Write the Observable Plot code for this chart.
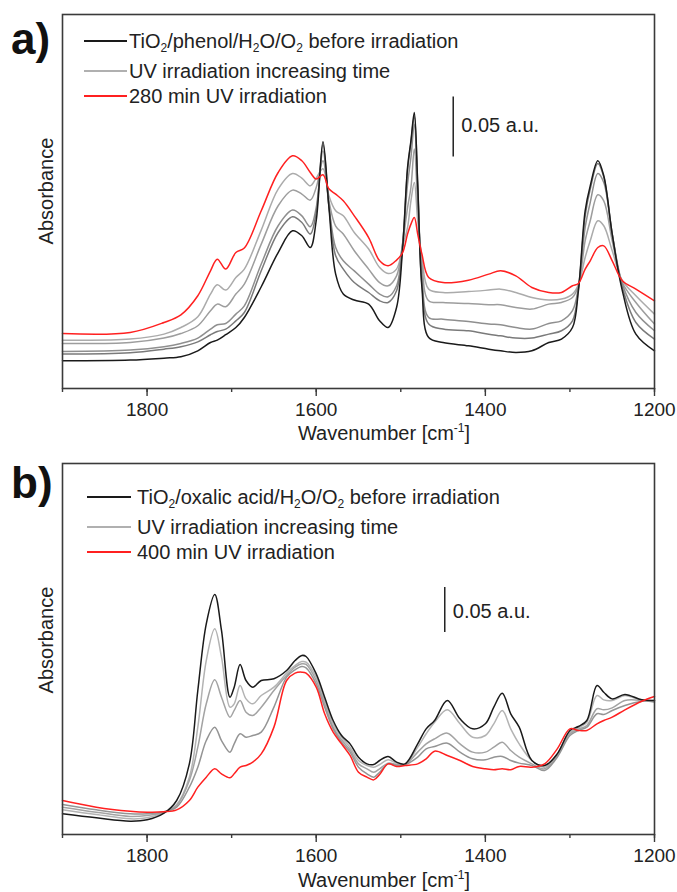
<!DOCTYPE html>
<html><head><meta charset="utf-8">
<script src="https://cdn.jsdelivr.net/npm/d3@7"></script>
<script src="https://cdn.jsdelivr.net/npm/@observablehq/plot@0.6"></script>
<style>
body{margin:0;background:#fff;font-family:"Liberation Sans",Arial,sans-serif;color:#222;}
#wrap{position:relative;width:677px;height:892px;overflow:hidden;background:#fff;}
.panel{position:absolute;left:0;width:677px;height:446px;}
.plab{position:absolute;font-weight:bold;font-size:44px;line-height:44px;color:#111;}
.ylab{position:absolute;font-size:20px;white-space:nowrap;transform:translate(-50%,-50%) rotate(-90deg);}
.xlab{position:absolute;font-size:20px;white-space:nowrap;transform:translate(-50%,-50%);}
.row{position:absolute;font-size:20px;line-height:20px;white-space:nowrap;}
.sw{position:absolute;height:2px;}
sub{font-size:12px;vertical-align:-4px;line-height:0;}
sup{font-size:12px;vertical-align:8px;line-height:0;}
</style></head><body><div id="wrap"></div>
<script>
// ---------- Panel a data (wavenumber, absorbance in a.u., relative) ----------
const waA = [1900,1820,1780,1760,1740,1725,1717,1707,1695,1685,1665,1645,1628,1617,1607,1600,1592,1585,1577,1568,1555,1538,1525,1515,1505,1498,1492,1488,1484,1480,1475,1467,1450,1420,1396,1382,1364,1345,1325,1310,1297,1290,1282,1276,1267,1260,1250,1238,1222,1200];
const blackA = [0.0231,0.0237,0.0253,0.0264,0.0314,0.0383,0.0403,0.0448,0.0508,0.0592,0.0848,0.1133,0.1314,0.1273,0.1175,0.1398,0.2056,0.1514,0.0953,0.0787,0.0737,0.0703,0.0564,0.0508,0.0675,0.1148,0.1842,0.2064,0.2300,0.1703,0.0842,0.0425,0.0383,0.0356,0.0328,0.0314,0.0300,0.0314,0.0383,0.0412,0.0508,0.0814,0.1481,0.1689,0.1898,0.1773,0.1287,0.0814,0.0453,0.0314];
const grayA1 = [0.0287,0.0298,0.0328,0.0348,0.0389,0.0448,0.0475,0.0495,0.0564,0.0633,0.0981,0.1300,0.1431,0.1383,0.1287,0.1467,0.2031,0.1523,0.1106,0.0995,0.0883,0.0800,0.0731,0.0717,0.0814,0.1180,0.1820,0.2050,0.2270,0.1703,0.0870,0.0537,0.0495,0.0481,0.0453,0.0439,0.0420,0.0420,0.0453,0.0481,0.0564,0.0828,0.1439,0.1662,0.1875,0.1764,0.1287,0.0842,0.0550,0.0412];
const grayA2 = [0.0308,0.0320,0.0348,0.0375,0.0420,0.0495,0.0531,0.0542,0.0620,0.0689,0.1037,0.1356,0.1487,0.1439,0.1348,0.1508,0.1981,0.1523,0.1175,0.1064,0.0980,0.0870,0.0787,0.0764,0.0856,0.1200,0.1703,0.1925,0.2203,0.1648,0.0953,0.0592,0.0578,0.0558,0.0537,0.0531,0.0508,0.0495,0.0542,0.0564,0.0648,0.0842,0.1342,0.1550,0.1792,0.1717,0.1287,0.0870,0.0633,0.0481];
const grayA3 = [0.0375,0.0383,0.0420,0.0458,0.0523,0.0648,0.0703,0.0681,0.0787,0.0870,0.1203,0.1523,0.1653,0.1620,0.1570,0.1675,0.1898,0.1564,0.1353,0.1287,0.1148,0.0995,0.0883,0.0856,0.0939,0.1200,0.1508,0.1675,0.1995,0.1537,0.1037,0.0731,0.0717,0.0708,0.0698,0.0698,0.0675,0.0662,0.0703,0.0717,0.0758,0.0856,0.1231,0.1398,0.1614,0.1564,0.1231,0.0883,0.0717,0.0537];
const grayA4 = [0.0403,0.0412,0.0453,0.0508,0.0598,0.0787,0.0864,0.0820,0.0925,0.0995,0.1320,0.1662,0.1792,0.1753,0.1689,0.1753,0.1831,0.1606,0.1481,0.1439,0.1300,0.1162,0.1008,0.0958,0.0995,0.1180,0.1342,0.1564,0.1717,0.1398,0.1092,0.0828,0.0800,0.0808,0.0820,0.0828,0.0800,0.0758,0.0737,0.0745,0.0787,0.0864,0.1092,0.1231,0.1398,0.1356,0.1148,0.0898,0.0773,0.0620];
const redA = [0.0458,0.0467,0.0550,0.0614,0.0773,0.0981,0.1078,0.0995,0.1133,0.1170,0.1481,0.1800,0.1939,0.1898,0.1800,0.1745,0.1781,0.1664,0.1620,0.1564,0.1439,0.1258,0.1064,0.1023,0.1070,0.1130,0.1287,0.1370,0.1425,0.1287,0.1120,0.0925,0.0883,0.0903,0.0953,0.0981,0.0939,0.0842,0.0800,0.0800,0.0856,0.0875,0.0995,0.1064,0.1175,0.1189,0.1064,0.0898,0.0828,0.0731];

// ---------- Panel b data ----------
const waB = [1900,1860,1820,1800,1780,1765,1750,1740,1730,1720,1712,1702,1697,1690,1683,1675,1665,1650,1635,1625,1617,1612,1600,1590,1580,1570,1560,1550,1540,1532,1525,1515,1505,1495,1480,1470,1460,1445,1430,1415,1400,1390,1380,1370,1360,1345,1330,1315,1300,1290,1280,1268,1260,1250,1235,1215,1200];
const blackB = [0.0230,0.0185,0.0148,0.0163,0.0237,0.0378,0.0785,0.1600,0.2341,0.2667,0.2267,0.1526,0.1637,0.1889,0.1711,0.1637,0.1711,0.1730,0.1822,0.1933,0.1989,0.1978,0.1785,0.1526,0.1267,0.1100,0.1007,0.0859,0.0785,0.0778,0.0822,0.0867,0.0804,0.0785,0.1007,0.1174,0.1267,0.1489,0.1285,0.1174,0.1230,0.1415,0.1570,0.1341,0.1193,0.0822,0.0767,0.0896,0.1156,0.1200,0.1267,0.1656,0.1581,0.1507,0.1556,0.1496,0.1489];
const grayB1 = [0.0274,0.0222,0.0174,0.0185,0.0244,0.0333,0.0637,0.1193,0.1933,0.2285,0.1970,0.1415,0.1452,0.1656,0.1507,0.1452,0.1544,0.1637,0.1793,0.1878,0.1922,0.1915,0.1748,0.1489,0.1230,0.1081,0.0970,0.0822,0.0767,0.0748,0.0778,0.0830,0.0793,0.0778,0.0970,0.1119,0.1248,0.1385,0.1230,0.1081,0.1100,0.1230,0.1378,0.1174,0.1007,0.0822,0.0748,0.0896,0.1137,0.1185,0.1248,0.1544,0.1496,0.1489,0.1544,0.1489,0.1481];
const grayB2 = [0.0304,0.0248,0.0200,0.0211,0.0248,0.0322,0.0600,0.0970,0.1452,0.1719,0.1526,0.1304,0.1378,0.1489,0.1359,0.1322,0.1415,0.1600,0.1767,0.1859,0.1897,0.1889,0.1711,0.1452,0.1193,0.1052,0.0941,0.0785,0.0730,0.0692,0.0730,0.0793,0.0778,0.0778,0.0915,0.1007,0.1063,0.1126,0.1007,0.0915,0.0915,0.0970,0.1026,0.0933,0.0859,0.0785,0.0730,0.0878,0.1119,0.1170,0.1211,0.1397,0.1385,0.1407,0.1489,0.1489,0.1470];
const grayB3 = [0.0333,0.0274,0.0230,0.0230,0.0252,0.0304,0.0526,0.0748,0.1044,0.1193,0.1044,0.0915,0.1007,0.1119,0.1081,0.1100,0.1137,0.1415,0.1748,0.1830,0.1867,0.1852,0.1674,0.1415,0.1174,0.1026,0.0915,0.0748,0.0674,0.0637,0.0692,0.0785,0.0767,0.0774,0.0859,0.0952,0.0978,0.1015,0.0915,0.0841,0.0830,0.0859,0.0867,0.0822,0.0793,0.0767,0.0711,0.0859,0.1100,0.1156,0.1193,0.1341,0.1333,0.1378,0.1433,0.1481,0.1489];
const redB = [0.0378,0.0304,0.0259,0.0248,0.0252,0.0274,0.0378,0.0526,0.0637,0.0730,0.0674,0.0630,0.0674,0.0748,0.0767,0.0804,0.0896,0.1193,0.1711,0.1793,0.1804,0.1793,0.1637,0.1341,0.1137,0.1007,0.0878,0.0692,0.0637,0.0607,0.0667,0.0785,0.0756,0.0767,0.0785,0.0841,0.0926,0.0878,0.0822,0.0756,0.0730,0.0719,0.0730,0.0719,0.0756,0.0748,0.0785,0.0952,0.1174,0.1156,0.1156,0.1230,0.1267,0.1304,0.1385,0.1481,0.1533];

// ---------- Ticks and labels ----------
const majorTicks = [1800,1600,1400,1200];
const minorTicks = [1900,1800,1700,1600,1500,1400,1300,1200];
const legendA = ["TiO<sub>2</sub>/phenol/H<sub>2</sub>O/O<sub>2</sub> before irradiation","UV irradiation increasing time","280 min UV irradiation"];
const legendB = ["TiO<sub>2</sub>/oxalic acid/H<sub>2</sub>O/O<sub>2</sub> before irradiation","UV irradiation increasing time","400 min UV irradiation"];
const xTitle = "Wavenumber [cm<sup>-1</sup>]";
const yTitle = "Absorbance";
const barLabel = "0.05 a.u.";

const legendColors = ["#1a1a1a","#b0b0b0","#ff2020"];

function rows(wn, list){
  const out=[];
  for(const [name,vals,color] of list) vals.forEach((v,i)=>out.push({wn:wn[i],a:v,s:name,c:color}));
  return out;
}

function panel({data, ymax, mTop, bar}){
  return Plot.plot({
    width:677, height:446, marginTop:mTop, marginBottom:58, marginLeft:62, marginRight:23,
    x:{domain:[1900,1200]},
    y:{domain:[0,ymax], axis:null},
    style:{fontFamily:"'Liberation Sans', Arial, sans-serif", fontSize:"19px", color:"#222", background:"transparent", overflow:"visible"},
    marks:[
      Plot.line(data,{x:"wn",y:"a",z:"s",stroke:"c",strokeWidth:1.5,curve:"catmull-rom"}),
      Plot.frame({stroke:"#3a3a3a",strokeWidth:1.6}),
      Plot.axisX({ticks:minorTicks,tickSize:4,tickFormat:()=>"",stroke:"#3a3a3a",strokeWidth:1.4,label:null}),
      Plot.axisX({ticks:majorTicks,tickSize:8,tickPadding:6,tickFormat:d3.format("d"),stroke:"#3a3a3a",strokeWidth:1.4,label:null,fill:"#222"}),
      Plot.ruleX([bar],{x:"x",y1:"y1",y2:"y2",stroke:"#222",strokeWidth:1.5}),
      Plot.text([bar],{x:"x",y:"ym",text:()=>barLabel,textAnchor:"start",dx:8,fontSize:20,fill:"#222"})
    ]
  });
}

const wrap=document.getElementById("wrap");

const dataA = rows(waA,[["g4",grayA4,"#ababab"],["g3",grayA3,"#9d9d9d"],["g2",grayA2,"#8f8f8f"],["g1",grayA1,"#7a7a7a"],["black",blackA,"#1a1a1a"],["red",redA,"#ff2020"]]);
const dataB = rows(waB,[["g1",grayB1,"#b3b3b3"],["g2",grayB2,"#a3a3a3"],["g3",grayB3,"#949494"],["black",blackB,"#1a1a1a"],["red",redB,"#ff2020"]]);

const pa=document.createElement("div");pa.className="panel";pa.style.top="0px";
pa.appendChild(panel({data:dataA,ymax:374/1200,mTop:14,bar:{x:1438,y1:0.193,y2:0.243,ym:0.219}}));
wrap.appendChild(pa);
const pb=document.createElement("div");pb.className="panel";pb.style.top="446px";
pb.appendChild(panel({data:dataB,ymax:371/900,mTop:17,bar:{x:1448,y1:0.2244,y2:0.2744,ym:0.2478}}));
wrap.appendChild(pb);

function addHTML(cls,html,css){const d=document.createElement("div");d.className=cls;d.innerHTML=html;Object.assign(d.style,css);wrap.appendChild(d);return d;}

// panel labels
addHTML("plab","a)",{left:"11px",top:"17px"});
addHTML("plab","b)",{left:"11px",top:"461px"});
// axis titles
addHTML("ylab",yTitle,{left:"46px",top:"191px"});
addHTML("ylab",yTitle,{left:"46px",top:"640px"});
addHTML("xlab",xTitle,{left:"384px",top:"433px"});
addHTML("xlab",xTitle,{left:"384px",top:"880px"});
// legends
function legend(labels, x0, x1, tx, lineYs){
  labels.forEach((t,i)=>{
    const y=Math.round(lineYs[i]);
    addHTML("sw","",{left:x0+"px",width:(x1-x0)+"px",top:(y-1)+"px",backgroundColor:legendColors[i]});
    addHTML("row",t,{left:tx+"px",top:(y-10)+"px"});
  });
}
legend(legendA,84,127,129,[40.7,70.7,96]);
legend(legendB,87,131,137,[497.3,527.3,551.7]);
</script></body></html>
